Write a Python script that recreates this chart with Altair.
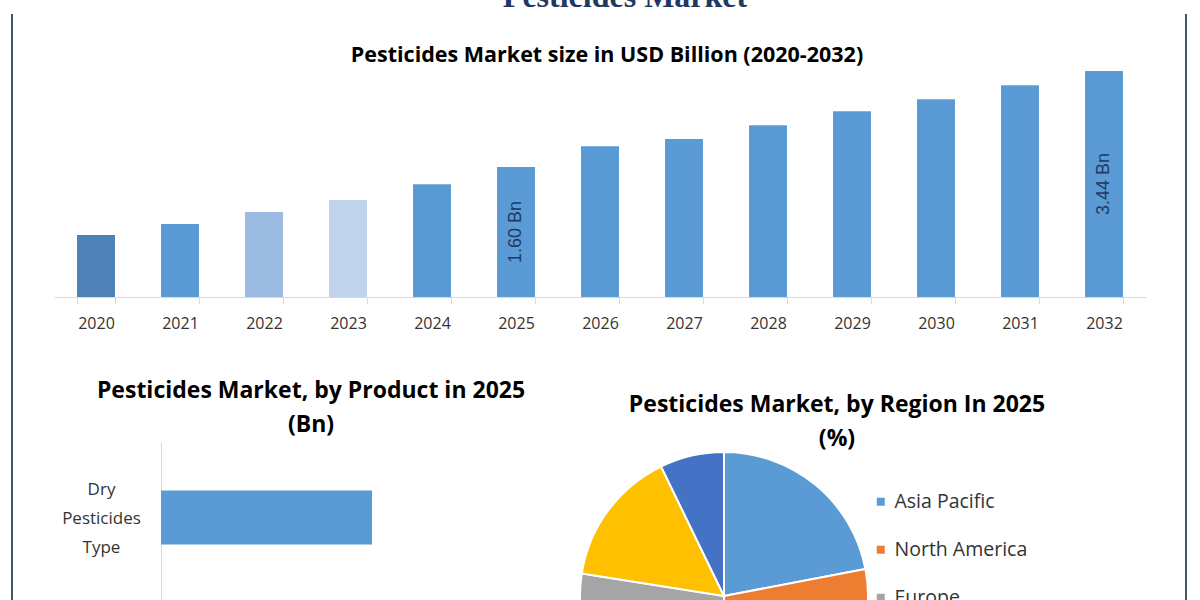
import altair as alt
import pandas as pd

# ---------------- data ----------------
years = ["2020", "2021", "2022", "2023", "2024", "2025", "2026",
         "2027", "2028", "2029", "2030", "2031", "2032"]
market_bn = [0.30, 0.51, 0.74, 0.97, 1.27, 1.60, 2.00,
             2.14, 2.40, 2.67, 2.90, 3.17, 3.44]
bar_labels = ["", "", "", "", "", "1.60 Bn", "", "", "", "", "", "", "3.44 Bn"]

product_types = ["Dry Pesticides Type"]
product_bn = [0.92]

regions = ["Asia Pacific", "North America", "Europe", "Latin America",
           "Middle East and Africa"]
region_share = [22.0, 28.0, 27.5, 15.3, 7.2]

# ---------------- styles ----------------
bar_colors = ["#4f81b9", "#5b9bd5", "#9bbbe0", "#bfd3ec"] + ["#5b9bd5"] * 9
region_colors = ["#5b9bd5", "#ed7d31", "#a5a5a5", "#ffc000", "#4472c4"]
FRAME = "#44546a"
AXIS_GREY = "#d9d9d9"
TXT = "#333333"
Y_MIN, Y_MAX = -0.89, 3.46

# ---------------- top: market size bars ----------------
top_df = pd.DataFrame({"year": years, "value": market_bn, "label": bar_labels})
yscale = alt.Scale(domain=[Y_MIN, Y_MAX], nice=False, zero=False)
base = alt.Chart(top_df)

bars = base.mark_bar().encode(
    x=alt.X("year:O", title=None,
            scale=alt.Scale(paddingInner=0.548, paddingOuter=0.274),
            axis=alt.Axis(labelAngle=0, labelFont="Open Sans", labelFontSize=16,
                          labelColor=TXT, domainColor=AXIS_GREY, tickColor=AXIS_GREY,
                          tickSize=7, tickBand="extent", labelPadding=11)),
    y=alt.Y("value:Q", scale=yscale, axis=None),
    y2=alt.datum(Y_MIN),
    color=alt.Color("year:O", scale=alt.Scale(domain=years, range=bar_colors), legend=None),
)

value_text = base.transform_filter("datum.label != ''").transform_calculate(
    mid=f"(datum.value + ({Y_MIN})) / 2"
).mark_text(angle=270, font="Liberation Sans", fontSize=18, color="#1f3864",
            align="center", baseline="middle").encode(
    x=alt.X("year:O"),
    y=alt.Y("mid:Q", scale=yscale, axis=None),
    text="label:N",
)

frame_df = pd.DataFrame({"k": [0]})
left_rule = alt.Chart(frame_df).mark_rule(color=FRAME, strokeWidth=2).encode(
    x=alt.value(-42), y=alt.value(-56), y2=alt.value(680))
right_rule = alt.Chart(frame_df).mark_rule(color=FRAME, strokeWidth=2).encode(
    x=alt.value(1132), y=alt.value(-56), y2=alt.value(680))

top = alt.layer(bars, value_text, left_rule, right_rule).properties(
    width=1092, height=227,
    title=alt.Title("Pesticides Market size in USD Billion (2020-2032)",
                    font="Open Sans", fontSize=21.5, fontWeight="bold", color="#000000",
                    anchor="middle", frame="group", dx=7, baseline="alphabetic",
                    offset=-70.5),
)

# ---------------- bottom left: by product ----------------
prod_df = pd.DataFrame({"type": product_types, "value": product_bn})
left = alt.Chart(prod_df).mark_bar(size=54, color="#5b9bd5").encode(
    y=alt.Y("type:N", title=None,
            scale=alt.Scale(paddingInner=0, paddingOuter=0.063, align=0),
            axis=alt.Axis(offset=-107, ticks=False, tickSize=0, labelPadding=60,
                          labelAlign="center", labelBaseline="middle", labelOffset=-27,
                          labelExpr="split(datum.label, ' ')", labelLineHeight=29,
                          labelFont="Open Sans", labelFontSize=17, labelColor=TXT,
                          domainColor=AXIS_GREY, labelLimit=0)),
    x=alt.X("value:Q", scale=alt.Scale(domain=[0, 1.6], range=[107, 474], nice=False),
            axis=None),
).properties(
    width=474, height=170,
    title=alt.Title(["Pesticides Market, by Product in 2025", "(Bn)"],
                    font="Open Sans", fontSize=23, fontWeight="bold", color="#000000",
                    anchor="middle", frame="group", dx=20, baseline="bottom",
                    lineHeight=34, offset=-18),
)

# ---------------- bottom right: by region ----------------
reg_df = pd.DataFrame({"region": regions, "share": region_share,
                       "rank": list(range(len(regions)))})
pie = alt.Chart(reg_df).mark_arc(radius=144, stroke="white", strokeWidth=2).encode(
    theta=alt.Theta("share:Q", stack=True),
    order=alt.Order("rank:Q"),
    color=alt.Color("region:N", sort=regions,
                    scale=alt.Scale(domain=regions, range=region_colors),
                    legend=alt.Legend(orient="none", legendX=301, legendY=50, title=None,
                                      symbolType="square", symbolSize=64,
                                      symbolStrokeWidth=0, labelFont="Open Sans",
                                      labelFontSize=19.5, labelColor=TXT, labelOffset=4,
                                      rowPadding=27, padding=0, direction="vertical",
                                      labelLimit=0)),
).properties(
    width=308, height=308,
    title=alt.Title(["Pesticides Market, by Region In 2025", "(%)"],
                    font="Open Sans", fontSize=23, fontWeight="bold", color="#000000",
                    anchor="middle", frame="group", dx=113, baseline="bottom",
                    lineHeight=34, offset=-32),
)

bottom = alt.hconcat(left, pie, spacing=42, bounds="flush").resolve_scale(color="independent")

chart = alt.vconcat(
    top, bottom, spacing=145, bounds="flush",
    title=alt.Title("Pesticides Market", font="Liberation Serif", fontSize=32,
                    fontWeight="bold", color="#1f3864", anchor="middle", frame="bounds",
                    dx=26, baseline="alphabetic", offset=-26),
).resolve_scale(color="independent").properties(
    padding={"left": 11, "right": 13, "top": -19, "bottom": -150},
    background="white",
).configure_view(strokeWidth=0)

chart.save("out.html", embed_options={"renderer": "svg", "actions": False})
